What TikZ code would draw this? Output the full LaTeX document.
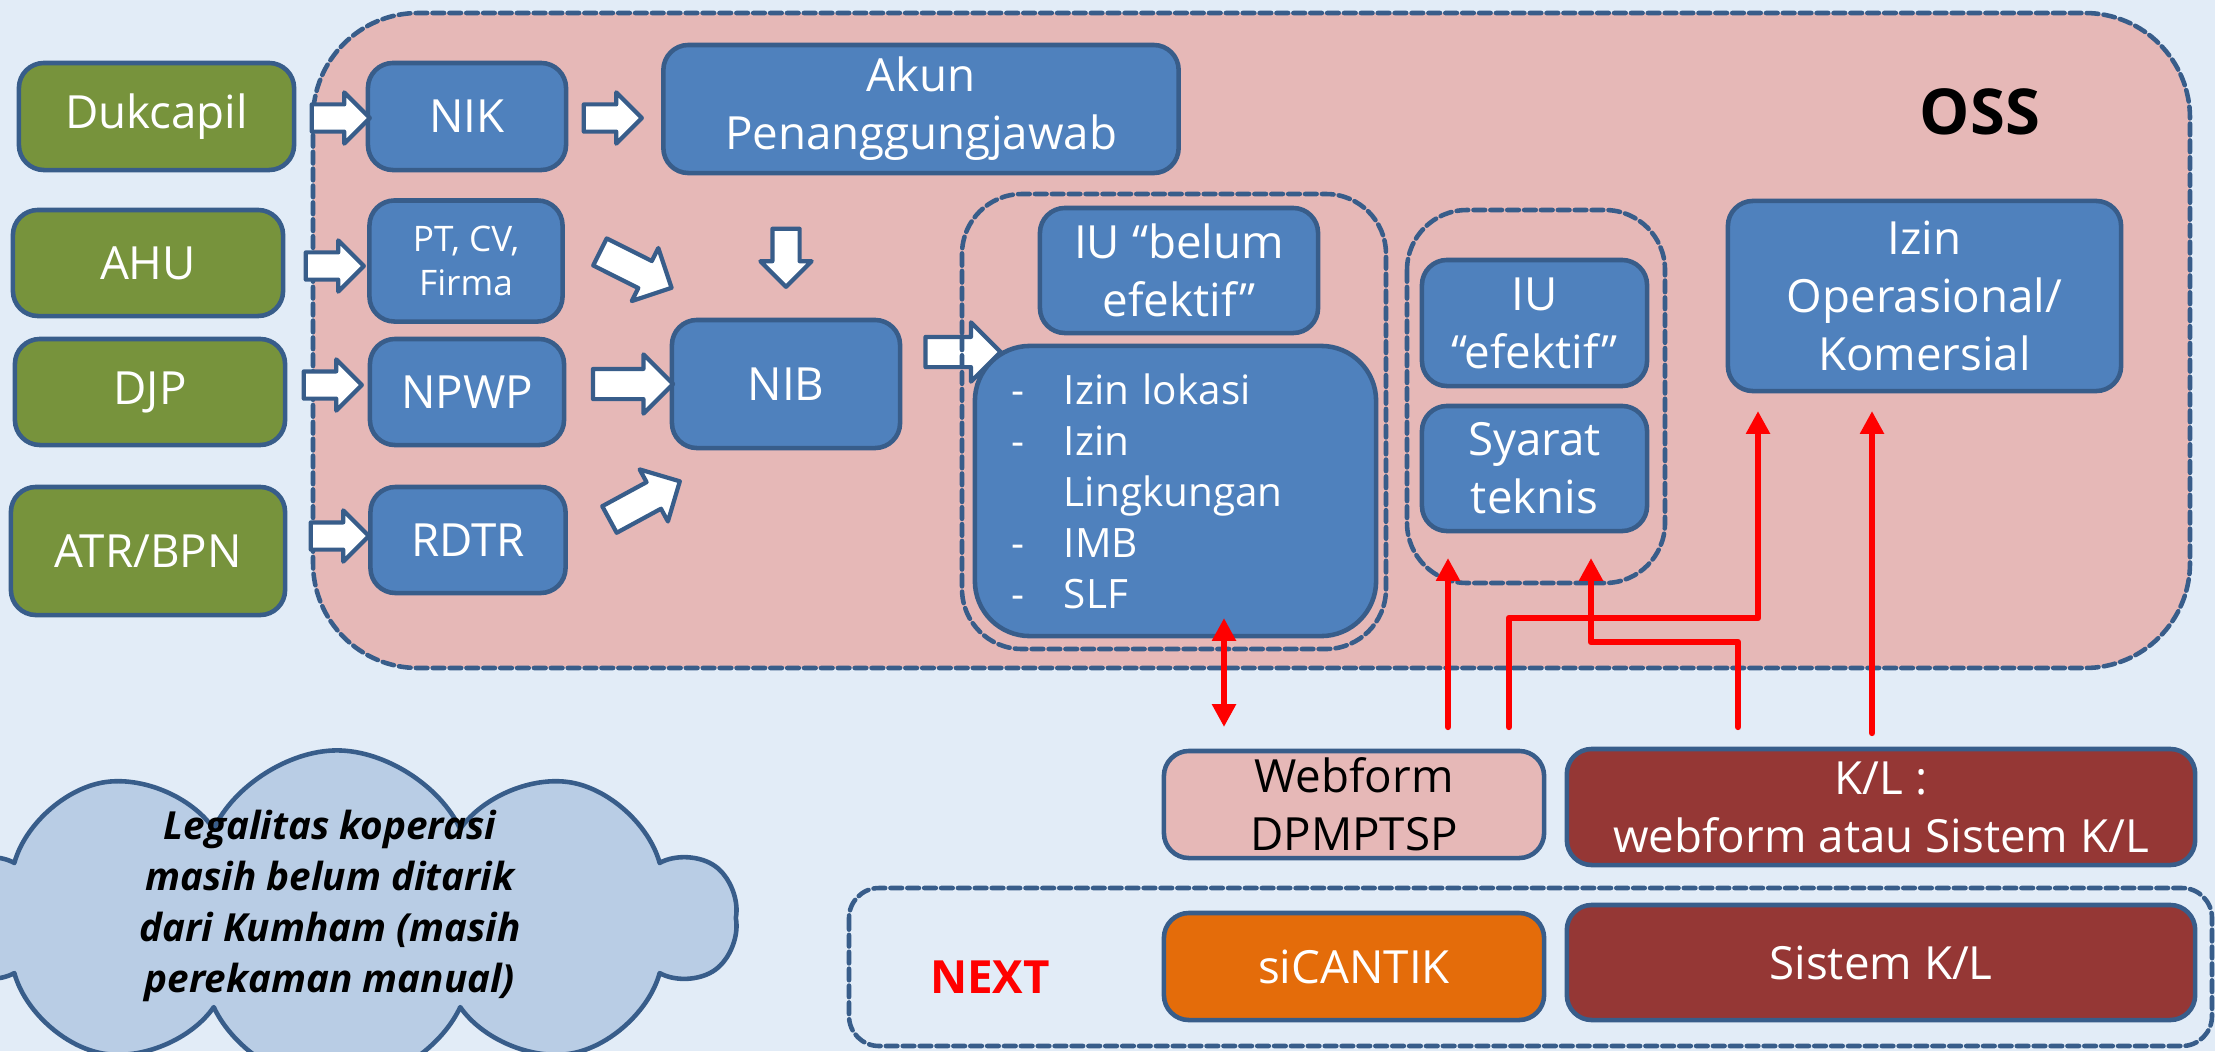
\documentclass[tikz,border=0pt]{standalone}
\usepackage{fontspec}
\setmainfont{Open Sans}
\usetikzlibrary{arrows.meta}
\usetikzlibrary{shapes.arrows}
\usetikzlibrary{shapes.symbols}

\definecolor{bgblue}{RGB}{226,236,247}
\definecolor{osspink}{RGB}{230,184,183}
\definecolor{boxblue}{RGB}{79,129,189}
\definecolor{edgeblue}{RGB}{56,93,138}
\definecolor{srcgreen}{RGB}{119,147,60}
\definecolor{klred}{RGB}{149,55,53}
\definecolor{sicorange}{RGB}{228,108,10}
\definecolor{cloudblue}{RGB}{185,205,229}

\tikzset{
  panel/.style={rounded corners=0.25cm,draw=edgeblue,line width=1.3pt,text=white,align=center,inner sep=0pt,font=\fontsize{13}{16.5}\selectfont},
  srcbox/.style={panel,fill=srcgreen},
  ossbox/.style={panel,fill=boxblue},
  ossarea/.style={fill=osspink,draw=edgeblue,line width=1.3pt,dash pattern=on 3.3pt off 1.5pt,rounded corners=1.05cm},
  grpbox/.style={draw=edgeblue,line width=1.3pt,dash pattern=on 3.3pt off 1.5pt,rounded corners=0.6cm},
  blockarr/.style={single arrow,draw=edgeblue,fill=white,line width=1.2pt,inner xsep=0pt,inner ysep=0.115cm,single arrow head extend=0.12cm,minimum height=0.58cm},
  bigarr/.style={blockarr,inner ysep=0.13cm,single arrow head extend=0.145cm,minimum height=0.8cm},
  redline/.style={draw=red,line width=1.8pt}
}

\begin{document}
\begin{tikzpicture}[line cap=round,line join=round,>={Triangle[length=6.5pt,width=6.5pt]},x=0.01cm,y=-0.01cm]
\useasboundingbox (0,0) rectangle (2215,1051);
\clip (0,0) rectangle (2215,1051);
\fill[bgblue] (0,0) rectangle (2215,1051);
\draw[ossarea] (313,13) rectangle (2190,668);
\node[font=\fontsize{18}{20}\selectfont\bfseries] (oss) at (1980,112) {OSS};

\node[srcbox,minimum width=2.75cm,minimum height=1.07cm] (duk) at (156.5,116.5) {Dukcapil};
\node[srcbox,minimum width=2.70cm,minimum height=1.06cm] (ahu) at (148,263) {AHU};
\node[srcbox,minimum width=2.70cm,minimum height=1.06cm] (djp) at (150,392) {DJP};
\node[srcbox,minimum width=2.74cm,minimum height=1.28cm] (atr) at (148,551) {ATR/BPN};

\node[ossbox,minimum width=1.98cm,minimum height=1.07cm] (nik) at (467,116.5) {NIK};
\node[ossbox,minimum width=1.93cm,minimum height=1.21cm,font=\fontsize{10}{12.7}\selectfont] (pt) at (466,261) {PT, CV,\\Firma};
\node[ossbox,minimum width=1.94cm,minimum height=1.06cm] (npwp) at (467,392) {NPWP};
\node[ossbox,minimum width=1.95cm,minimum height=1.06cm] (rdtr) at (468,540) {RDTR};
\node[ossbox,minimum width=5.15cm,minimum height=1.28cm] (akun) at (921,109) {Akun\\Penanggungjawab};
\node[ossbox,minimum width=2.28cm,minimum height=1.28cm] (nib) at (786,384) {NIB};
\node[ossbox,minimum width=2.78cm,minimum height=1.25cm] (belum) at (1179,270.5) {IU “belum\\efektif”};
\node[ossbox,rounded corners=0.55cm,text width=3.27cm,inner xsep=0.37cm,minimum height=2.9cm,align=left,font=\fontsize{11.5}{14.5}\selectfont] (izin) at (1175.5,491)
  {\makebox[14.8pt][l]{-}Izin lokasi\\\makebox[14.8pt][l]{-}Izin\\\hspace*{14.8pt}Lingkungan\\\makebox[14.8pt][l]{-}IMB\\\makebox[14.8pt][l]{-}SLF};
\node[ossbox,minimum width=2.25cm,minimum height=1.26cm] (efektif) at (1534.5,323) {IU\\“efektif”};
\node[ossbox,minimum width=2.25cm,minimum height=1.25cm] (syarat) at (1534.5,468.5) {Syarat\\teknis};
\node[ossbox,minimum width=3.93cm,minimum height=1.90cm] (izop) at (1924.5,296) {Izin\\Operasional/\\Komersial};

\node[blockarr] (aduk) at (334,118) {};
\node[blockarr] (anik) at (606,118) {};
\node[blockarr] (aahu) at (328,266) {};
\node[blockarr] (adjp) at (326,385) {};
\node[blockarr] (aatr) at (333,536) {};
\node[blockarr,rotate=-90] (aakun) at (786,251) {};
\node[bigarr,rotate=-26.6] (apt) at (629,266.5) {};
\node[bigarr] (anpwp) at (625.5,384) {};
\node[bigarr,rotate=28.5] (ardtr) at (638,504) {};
\node[bigarr,minimum height=0.75cm] (anib) at (955.5,352) {};

\draw[grpbox] (962,194) rectangle (1386,649);
\draw[grpbox] (1407,210) rectangle (1665,583);
\draw[grpbox,rounded corners=0.3cm] (849,888) rectangle (2212,1046);

\node[panel,fill=osspink,text=black,minimum width=3.80cm,minimum height=1.07cm] (webform) at (1354,804.5) {Webform\\DPMPTSP};
\node[panel,fill=klred,minimum width=6.28cm,minimum height=1.16cm] (kl) at (1881,807) {K/L :\\webform atau Sistem K/L};
\node[panel,fill=sicorange,minimum width=3.80cm,minimum height=1.07cm] (sicantik) at (1354,966.5) {siCANTIK};
\node[panel,fill=klred,minimum width=6.28cm,minimum height=1.15cm] (sistemkl) at (1881,962.5) {Sistem K/L};
\node[text=red,font=\fontsize{13}{16}\selectfont\bfseries] (next) at (990,977) {NEXT};

\coordinate (r1a) at (1224,618);
\coordinate (r1b) at (1224,727);
\coordinate (r2a) at (1448,727);
\coordinate (r2b) at (1448,558);
\coordinate (r3a) at (1509,727);
\coordinate (r3b) at (1758,411);
\coordinate (r4a) at (1738,727);
\coordinate (r4b) at (1591,558);
\coordinate (r5a) at (1872,733);
\coordinate (r5b) at (1872,411);
\draw[redline,<->] (r1a) -- (r1b);
\draw[redline,->] (r2a) -- (r2b);
\draw[redline,->] (r3a) -- ++(0,-109) -| (r3b);
\draw[redline,->] (r4a) -- ++(0,-85) -| (r4b);
\draw[redline,->] (r5a) -- (r5b);

\node[cloud,cloud puffs=10,cloud puff arc=130,draw=edgeblue,fill=cloudblue,line width=1.3pt,inner sep=0pt,minimum width=7.95cm,minimum height=3.35cm] (cloudnote) at (337,918) {};
\node[align=center,font=\fontsize{11}{14.5}\selectfont\bfseries\itshape] (notetext) at (330,906)
  {Legalitas koperasi\\masih belum ditarik\\dari Kumham (masih\\perekaman manual)};
\end{tikzpicture}
\end{document}
